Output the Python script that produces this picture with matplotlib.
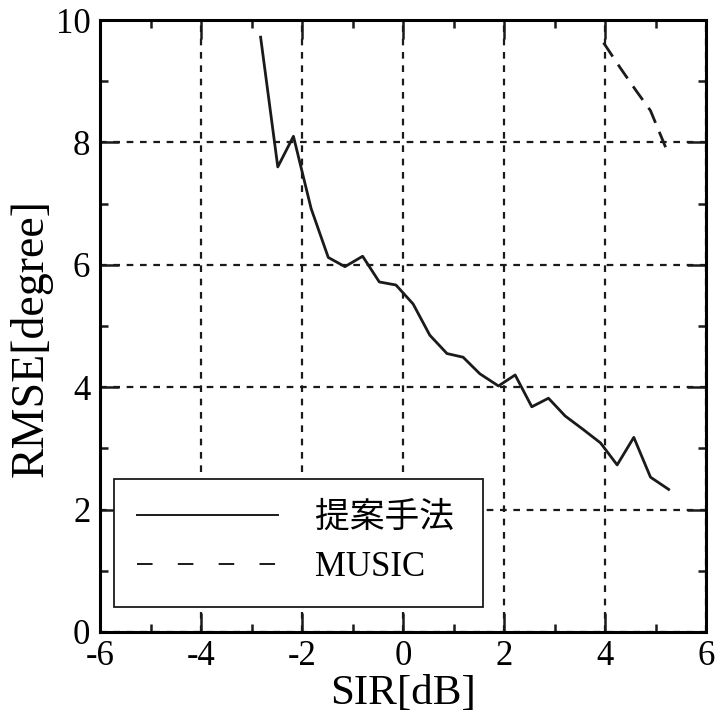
import numpy as np
import matplotlib.pyplot as plt
from matplotlib.ticker import MultipleLocator

# -----------------------------
# Data: RMSE versus SIR
# -----------------------------
sir_proposed = [-2.82, -2.48, -2.17, -1.82, -1.48, -1.15, -0.80, -0.47, -0.14,
                0.20, 0.53, 0.87, 1.19, 1.52, 1.89, 2.22, 2.55, 2.88, 3.21,
                3.55, 3.91, 4.24, 4.57, 4.90, 5.26]
rmse_proposed = [9.72, 7.60, 8.10, 6.92, 6.12, 5.97, 6.14, 5.72, 5.67,
                 5.36, 4.85, 4.55, 4.49, 4.22, 4.02, 4.20, 3.68, 3.82, 3.53,
                 3.32, 3.09, 2.73, 3.18, 2.53, 2.33]

sir_music = [3.97, 4.30, 4.62, 4.90, 5.23]
rmse_music = [9.63, 9.22, 8.84, 8.52, 7.86]

labels = ["提案手法", "MUSIC"]

# -----------------------------
# Style
# -----------------------------
plt.rcParams['font.family'] = ['Liberation Serif', 'Noto Sans CJK JP']
plt.rcParams['axes.linewidth'] = 2.2
plt.rcParams['axes.unicode_minus'] = False

fig = plt.figure(figsize=(7.17, 7.18), dpi=100)
ax = fig.add_axes([0.1395, 0.1198, 0.8452, 0.8523])

ax.plot(sir_proposed, rmse_proposed, color='#1a1a1a', lw=2.0, label=labels[0],
        zorder=3)
ax.plot(sir_music, rmse_music, color='#1a1a1a', lw=2.0, dashes=(6, 3.5),
        label=labels[1], zorder=3)

ax.set_xlim(-6, 6)
ax.set_ylim(0, 10)
ax.xaxis.set_major_locator(MultipleLocator(2))
ax.xaxis.set_minor_locator(MultipleLocator(1))
ax.yaxis.set_major_locator(MultipleLocator(2))
ax.yaxis.set_minor_locator(MultipleLocator(1))

ax.tick_params(which='both', direction='in', top=True, right=True,
               labelsize=25, color='#1a1a1a')
ax.tick_params(which='major', length=14, width=1.8)
ax.tick_params(which='minor', length=6, width=1.8)
ax.tick_params(axis='x', which='major', pad=6)
ax.tick_params(axis='y', which='major', pad=7)

ax.grid(True, which='major', color='#1a1a1a', lw=1.6, linestyle=(0, (3, 3)),
        zorder=1)

ax.set_xlabel("SIR[dB]", fontsize=31, labelpad=1)
ax.set_ylabel("RMSE[degree]", fontsize=33)
ax.yaxis.set_label_coords(-0.078, 0.48)

# legend box stretched to a fixed width
leg = ax.legend(loc='lower left', bbox_to_anchor=(0.023, 0.041, 0.609, 0.21),
                mode='expand', borderaxespad=0, fontsize=25,
                handlelength=4.06, handletextpad=1.07, labelspacing=0.46,
                borderpad=0.66, fancybox=False, framealpha=1,
                edgecolor='#1a1a1a')
leg.get_frame().set_linewidth(1.3)
leg_lines = leg.get_lines()
for line in leg_lines:
    line.set_linewidth(1.4)
leg_lines[1].set_dashes((8, 13))

fig.savefig("out.png", dpi=100)
